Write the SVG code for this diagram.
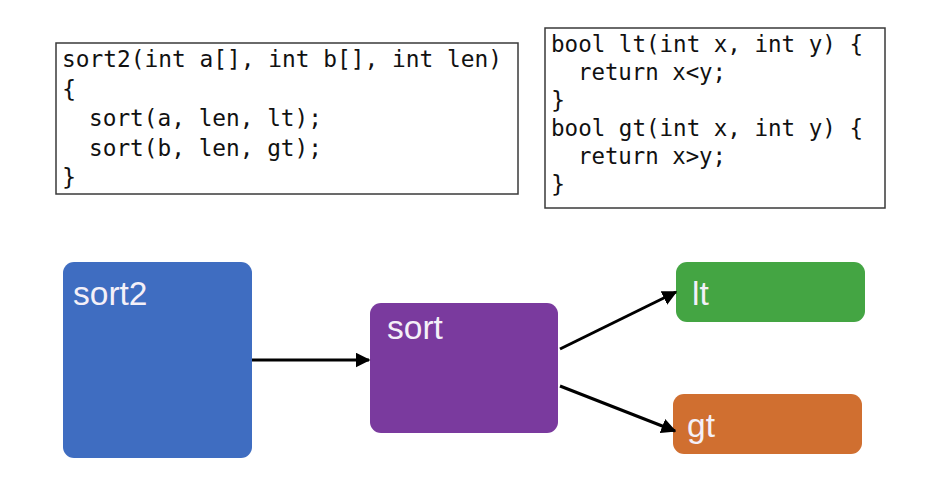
<svg xmlns="http://www.w3.org/2000/svg" width="942" height="480" viewBox="0 0 942 480">
  <style>
    .code-box { fill: #ffffff; stroke: #3a3a3a; stroke-width: 1.5; }
    .code { font-family: "DejaVu Sans Mono", "Liberation Mono", monospace; font-size: 23.5px; fill: #111111; }
    .node-label { font-family: "Liberation Sans", "Noto Sans", sans-serif; font-size: 33.5px; fill: #f4f0f8; }
    .edge { stroke: #000000; stroke-width: 3; fill: none; marker-end: url(#arrow); }
  </style>
  <defs>
    <marker id="arrow" viewBox="0 0 10 10" refX="9" refY="5" markerWidth="5" markerHeight="5" orient="auto" markerUnits="strokeWidth">
      <path d="M0,0 L10,5 L0,10 Z" fill="#000000"/>
    </marker>
  </defs>
  <rect width="942" height="480" fill="#ffffff"/>

  <!-- code: sort2 body -->
  <g id="code-sort2">
    <rect class="code-box" x="56" y="43" width="462" height="151"/>
    <text class="code" x="62" y="67" textLength="440" lengthAdjust="spacingAndGlyphs">sort2(int a[], int b[], int len)</text>
    <text class="code" x="62" y="96.5">{</text>
    <text class="code" x="89" y="126" textLength="233" lengthAdjust="spacingAndGlyphs">sort(a, len, lt);</text>
    <text class="code" x="89" y="155.5" textLength="233" lengthAdjust="spacingAndGlyphs">sort(b, len, gt);</text>
    <text class="code" x="62" y="185">}</text>
  </g>

  <!-- code: comparators -->
  <g id="code-compare">
    <rect class="code-box" x="545" y="28" width="340" height="180"/>
    <text class="code" x="551" y="52" textLength="312" lengthAdjust="spacingAndGlyphs">bool lt(int x, int y) {</text>
    <text class="code" x="578" y="80" textLength="148" lengthAdjust="spacingAndGlyphs">return x&lt;y;</text>
    <text class="code" x="551" y="108">}</text>
    <text class="code" x="551" y="136" textLength="312" lengthAdjust="spacingAndGlyphs">bool gt(int x, int y) {</text>
    <text class="code" x="578" y="164" textLength="148" lengthAdjust="spacingAndGlyphs">return x&gt;y;</text>
    <text class="code" x="551" y="192">}</text>
  </g>

  <!-- call graph nodes -->
  <g id="node-sort2">
    <rect x="63" y="262" width="189" height="196" rx="11" fill="#3F6DC1"/>
    <text class="node-label" x="73" y="305">sort2</text>
  </g>
  <g id="node-sort">
    <rect x="370" y="303" width="188" height="130" rx="11" fill="#7A3A9E"/>
    <text class="node-label" x="387" y="339">sort</text>
  </g>
  <g id="node-lt">
    <rect x="676" y="262" width="189" height="60" rx="11" fill="#44A543"/>
    <text class="node-label" x="692" y="305">lt</text>
  </g>
  <g id="node-gt">
    <rect x="673" y="394" width="189" height="60" rx="11" fill="#D06F30"/>
    <text class="node-label" x="687" y="437">gt</text>
  </g>

  <!-- call edges -->
  <g id="edges">
    <line class="edge" x1="252" y1="360" x2="369" y2="360"/>
    <line class="edge" x1="560" y1="349" x2="676" y2="292"/>
    <line class="edge" x1="560" y1="386" x2="675" y2="431"/>
  </g>
</svg>
